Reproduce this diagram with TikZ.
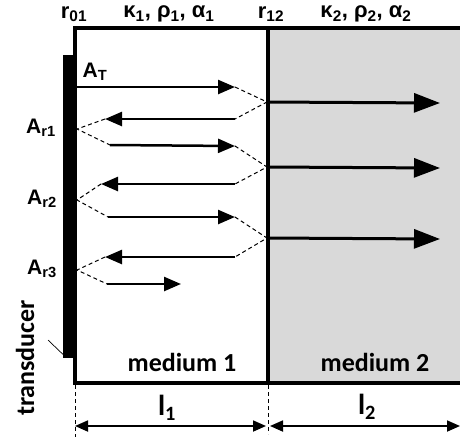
\documentclass[tikz,border=0pt]{standalone}
\usepackage{fontspec}
\setmainfont{Liberation Sans}
\newfontfamily\arialb{Liberation Sans}
\newfontfamily\calib{Carlito}
\definecolor{mGrey}{HTML}{D9D9D9}
\usetikzlibrary{arrows.meta}

\begin{document}
\begin{tikzpicture}[x=1pt, y=-1pt,
  wall/.style={line width=3.6pt},
  ray/.style={line width=2.5pt, -{Triangle[length=17pt, width=14pt]}},
  tx/.style={line width=3pt, -{Triangle[length=26pt, width=19pt]}},
  echo/.style={line width=1pt, dash pattern=on 4pt off 3pt},
  dim/.style={line width=1.8pt, {Triangle[length=13pt, width=11pt]}-{Triangle[length=13pt, width=11pt]}},
  lab/.style={font=\arialb\bfseries\fontsize{21}{23}\selectfont, inner sep=0pt},
  top/.style={font=\arialb\bfseries\fontsize{22}{24}\selectfont, inner sep=0pt},
  cal/.style={font=\calib\bfseries\fontsize{26}{28}\selectfont, inner sep=0pt},
  len/.style={font=\calib\bfseries\fontsize{29}{31}\selectfont, inner sep=0pt}]
  \useasboundingbox (0,0) rectangle (460,437);
  % media
  \fill[mGrey] (268,28) rectangle (460,383);
  \draw[wall] (460,28) -- (75,28) -- (75,383) -- (460,383);
  \draw[wall] (268,28) -- (268,383);
  \node[fill=black, inner sep=0pt, minimum width=13pt, minimum height=303pt,
        anchor=north west] (bar) at (63,55) {};
  % top labels
  \node[top] (r01) at (74,14) {r\textsubscript{01}};
  \node[top] (kap1) at (169,14) {κ\textsubscript{1}, ρ\textsubscript{1}, α\textsubscript{1}};
  \node[top] (r12) at (271,14) {r\textsubscript{12}};
  \node[top] (kap2) at (366,14) {κ\textsubscript{2}, ρ\textsubscript{2}, α\textsubscript{2}};
  % amplitudes
  \node[lab] (at) at (95,72) {A\textsubscript{T}};
  \node[lab] (ar1) at (41,128) {A\textsubscript{r1}};
  \node[lab] (ar2) at (42,199) {A\textsubscript{r2}};
  \node[lab] (ar3) at (42,269) {A\textsubscript{r3}};
  % wall and interface points
  \coordinate (w0) at (77,87);
  \coordinate (w1) at (77,129);
  \coordinate (w2) at (77,200);
  \coordinate (w3) at (77,270);
  \coordinate (i1) at (267,102);
  \coordinate (i2) at (267,167);
  \coordinate (i3) at (267,238);
  % ray ends
  \coordinate (f0) at (235,87);
  \coordinate (b1s) at (235,119);  \coordinate (b1e) at (105,119);
  \coordinate (f1s) at (110,145);  \coordinate (f1e) at (235,146);
  \coordinate (b2s) at (235,184);  \coordinate (b2e) at (101,184);
  \coordinate (f2s) at (108,217);  \coordinate (f2e) at (235,217);
  \coordinate (b3s) at (235,257);  \coordinate (b3e) at (105,257);
  \coordinate (f3s) at (107,284);  \coordinate (f3e) at (181,284);
  \coordinate (t1) at (440,103);
  \coordinate (t2) at (440,168);
  \coordinate (t3) at (440,239);
  % medium 1
  \draw[ray] (w0) -- (f0);
  \draw[echo] (f0) -- (i1) -- (b1s);
  \draw[ray] (b1s) -- (b1e);
  \draw[echo] (b1e) -- (w1) -- (f1s);
  \draw[ray] (f1s) -- (f1e);
  \draw[echo] (f1e) -- (i2) -- (b2s);
  \draw[ray] (b2s) -- (b2e);
  \draw[echo] (b2e) -- (w2) -- (f2s);
  \draw[ray] (f2s) -- (f2e);
  \draw[echo] (f2e) -- (i3) -- (b3s);
  \draw[ray] (b3s) -- (b3e);
  \draw[echo] (b3e) -- (w3) -- (f3s);
  \draw[ray] (f3s) -- (f3e);
  % medium 2
  \draw[tx] (i1) -- (t1);
  \draw[tx] (i2) -- (t2);
  \draw[tx] (i3) -- (t3);
  % medium names
  \node[cal] (med1) at (182,362) {medium 1};
  \node[cal] (med2) at (375,362) {medium 2};
  % transducer
  \node[cal, rotate=90] (trd) at (25,358) {transducer};
  \coordinate (lead) at (48,340);
  \draw[line width=0.7pt] (lead) -- ([yshift=4pt]bar.south west);
  % lengths
  \coordinate (e0) at (75,385);  \coordinate (e0b) at (75,437);
  \coordinate (e1) at (268,385); \coordinate (e1b) at (268,434);
  \draw[echo] (e0) -- (e0b);
  \draw[echo] (e1) -- (e1b);
  \coordinate (d0) at (75,426);
  \coordinate (d1) at (266,426);
  \coordinate (d2) at (270,426);
  \coordinate (d3) at (460,426);
  \draw[dim] (d0) -- (d1);
  \draw[dim] (d2) -- (d3);
  \node[len] (l1) at (167,408) {l\textsubscript{1}};
  \node[len] (l2) at (367,407) {l\textsubscript{2}};
\end{tikzpicture}
\end{document}
